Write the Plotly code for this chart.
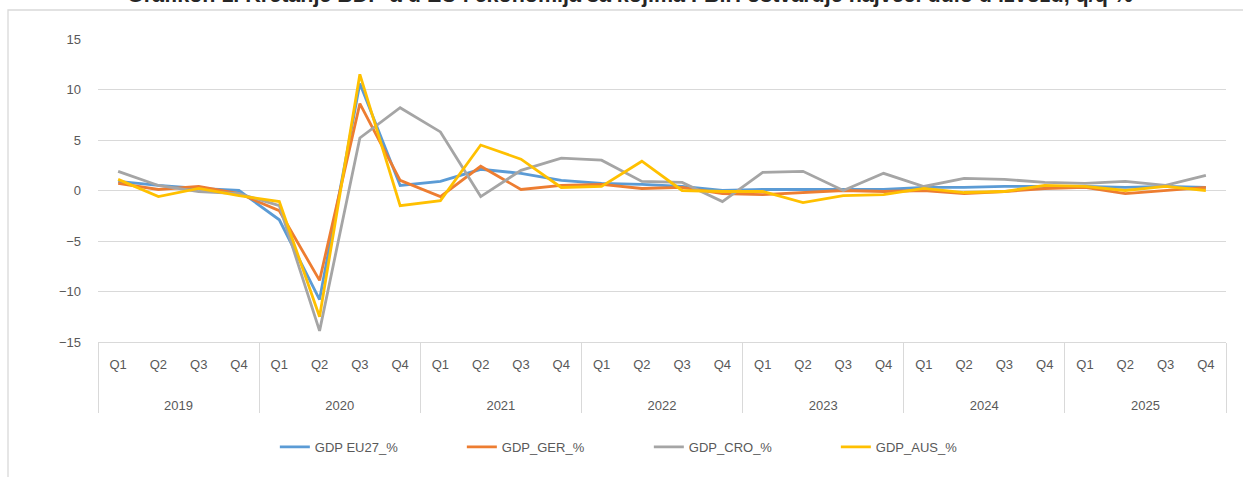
import plotly.graph_objects as go

years = ["2019", "2020", "2021", "2022", "2023", "2024", "2025"]
quarters = ["Q1", "Q2", "Q3", "Q4"]

gdp_eu27 = [0.9, 0.5, 0.2, 0.0, -2.9, -10.8, 10.6, 0.5, 0.9, 2.1, 1.7, 1.0,
            0.7, 0.6, 0.4, 0.0, 0.1, 0.1, 0.1, 0.1, 0.3, 0.3, 0.4, 0.4,
            0.4, 0.3, 0.4, 0.3]
gdp_ger = [0.7, 0.1, 0.4, -0.3, -2.0, -8.9, 8.6, 1.0, -0.6, 2.4, 0.1, 0.5,
           0.6, 0.2, 0.3, -0.3, -0.4, -0.2, 0.0, -0.1, 0.0, -0.3, -0.1, 0.2,
           0.3, -0.3, 0.0, 0.3]
gdp_cro = [1.9, 0.5, -0.1, -0.3, -1.5, -13.9, 5.2, 8.2, 5.8, -0.6, 2.0, 3.2,
           3.0, 0.9, 0.8, -1.1, 1.8, 1.9, 0.0, 1.7, 0.4, 1.2, 1.1, 0.8,
           0.7, 0.9, 0.5, 1.5]
gdp_aus = [1.1, -0.6, 0.2, -0.5, -1.1, -12.5, 11.5, -1.5, -1.0, 4.5, 3.1, 0.3,
           0.4, 2.9, 0.0, -0.1, -0.1, -1.2, -0.5, -0.4, 0.2, -0.2, -0.1, 0.5,
           0.4, 0.0, 0.4, 0.0]

series_names = ["GDP EU27_%", "GDP_GER_%", "GDP_CRO_%", "GDP_AUS_%"]
series_values = [gdp_eu27, gdp_ger, gdp_cro, gdp_aus]
colors = ["#5B9BD5", "#ED7D31", "#A5A5A5", "#FFC000"]

title_text = ("Grafikon 1. Kretanje BDP-a u EU i ekonomija sa kojima FBiH "
              "ostvaruje najveći udio u izvozu, q/q %")

x_year = [y for y in years for _ in quarters]
# blank lines under each quarter label to space the year row like the reference
x_q = [q + "<br> <br> " for _ in years for q in quarters]

fig = go.Figure()
for name, vals, col in zip(series_names, series_values, colors):
    fig.add_trace(go.Scatter(
        x=[x_year, x_q], y=vals, name=name, mode="lines",
        line=dict(color=col, width=2.8),
    ))

font_family = "Liberation Sans, Arial"
fig.update_layout(
    width=1243, height=477,
    margin=dict(l=98, r=17, t=39, b=135),
    paper_bgcolor="white", plot_bgcolor="white",
    font=dict(family=font_family, size=13, color="#595959"),
    legend=dict(orientation="h", xref="container", x=0.522, xanchor="center",
                yref="container", y=(477 - 447) / 477, yanchor="middle",
                font=dict(size=13, color="#595959"),
                entrywidth=142, entrywidthmode="pixels"),
    showlegend=True,
)
# title, partly cut off at the top edge as in the reference
fig.add_annotation(text="<b>" + title_text + "</b>", xref="paper", yref="paper",
                   x=(630 - 98) / 1128, xanchor="center",
                   y=1 + (39 + 5) / 303, yanchor="middle", showarrow=False,
                   font=dict(size=21.5, color="#262626", family=font_family))

fig.update_yaxes(range=[-15, 15], tick0=-15, dtick=5, showgrid=True,
                 gridcolor="#D9D9D9", gridwidth=1.3, zeroline=False,
                 showline=False, ticks="", ticklabelstandoff=16,
                 tickfont=dict(size=13, color="#595959"))
fig.update_xaxes(type="multicategory", range=[-0.5, 27.5], showgrid=False,
                 showline=True, linecolor="#D9D9D9", linewidth=1.3,
                 showdividers=True, dividercolor="#D9D9D9", dividerwidth=1.3,
                 ticks="", ticklabelstandoff=10,
                 tickfont=dict(size=13, color="#595959"))

# outer chart border (decorative), open to the right and bottom like the reference
fig.add_shape(type="rect", xref="paper", yref="paper",
              x0=(8 - 98) / 1128, x1=(1255 - 98) / 1128,
              y0=-(490 - 342) / 303, y1=(342 - 10) / 303,
              line=dict(color="#D9D9D9", width=1.3), fillcolor="rgba(0,0,0,0)",
              layer="below")

fig.write_html("out.html", config={"displayModeBar": False},
               post_script="document.body.style.margin='0';")
